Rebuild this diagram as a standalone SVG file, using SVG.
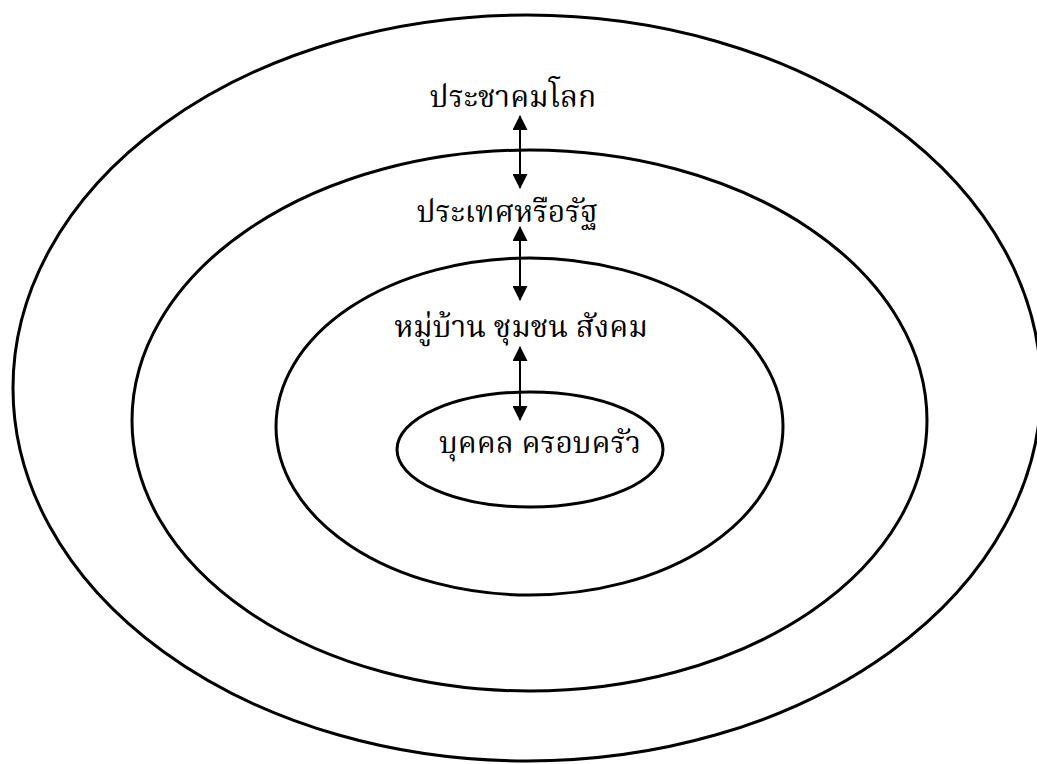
<svg xmlns="http://www.w3.org/2000/svg" width="1037" height="764" viewBox="0 0 1037 764">
<defs>
<style>
.ring{fill:none;stroke:#000;stroke-width:3}
.lbl{font-family:"Noto Serif Thai","Noto Sans Thai","Noto Sans","DejaVu Sans",sans-serif;font-size:30px;fill:#000;text-anchor:middle}
.conn{stroke:#000;stroke-width:2;fill:none;marker-start:url(#ah);marker-end:url(#ah)}
</style>
<marker id="ah" viewBox="0 0 15 15" refX="14" refY="7.5" markerWidth="15" markerHeight="15" markerUnits="userSpaceOnUse" orient="auto-start-reverse">
<path d="M0,0 L15,7.5 L0,15 Z" fill="#000"/>
</marker>
</defs>
<rect width="1037" height="764" fill="#fff"/>
<g id="world">
<ellipse class="ring" cx="527" cy="388" rx="514" ry="373"/>
<text class="lbl" x="513" y="107">ประชาคมโลก</text>
</g>
<g id="country">
<ellipse class="ring" cx="529.5" cy="420.5" rx="397.5" ry="270.5"/>
<text class="lbl" x="507" y="222">ประเทศหรือรัฐ</text>
</g>
<g id="community">
<ellipse class="ring" cx="529.5" cy="426.5" rx="253.5" ry="168.5"/>
<text class="lbl" x="521" y="337">หมู่บ้าน ชุมชน สังคม</text>
</g>
<g id="family">
<ellipse class="ring" cx="530" cy="449.5" rx="133" ry="57.5"/>
<text class="lbl" x="540" y="453">บุคคล ครอบครัว</text>
</g>
<g id="connectors">
<line class="conn" x1="520" y1="116" x2="520" y2="188"/>
<line class="conn" x1="520" y1="227" x2="520" y2="300"/>
<line class="conn" x1="520" y1="347" x2="520" y2="420"/>
</g>
</svg>
